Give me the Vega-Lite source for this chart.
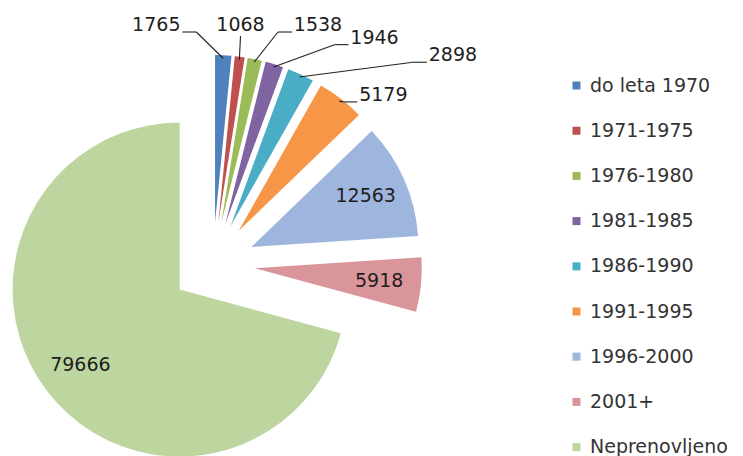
{
  "$schema": "https://vega.github.io/schema/vega-lite/v6.json",
  "width": 426,
  "height": 384,
  "autosize": {"type": "none"},
  "padding": {"left": 0, "top": 72, "right": 317, "bottom": 0},
  "background": "white",
  "config": {"view": {"stroke": null}, "text": {"font": "DejaVu Sans"}},
  "data": {
    "values": [
      {"k": "do leta 1970", "v": 1765},
      {"k": "1971-1975", "v": 1068},
      {"k": "1976-1980", "v": 1538},
      {"k": "1981-1985", "v": 1946},
      {"k": "1986-1990", "v": 2898},
      {"k": "1991-1995", "v": 5179},
      {"k": "1996-2000", "v": 12563},
      {"k": "2001+", "v": 5918},
      {"k": "Neprenovljeno", "v": 79666}
    ]
  },
  "transform": [
    {"window": [{"op": "sum", "field": "v", "as": "cum"}], "frame": [null, 0]},
    {"joinaggregate": [{"op": "sum", "field": "v", "as": "total"}]},
    {"calculate": "(datum.cum - datum.v) / datum.total", "as": "f0"},
    {"calculate": "datum.cum / datum.total", "as": "f1"},
    {"calculate": "datum.v / datum.total", "as": "f"},
    {"calculate": "PI * (datum.f0 + datum.f1)", "as": "m"}
  ],
  "layer": [
    {
      "mark": {
        "type": "arc",
        "radius": 167,
        "x": {"expr": "width/2 + 42*sin(datum.m)"},
        "y": {"expr": "height/2 - 42*cos(datum.m)"}
      },
      "encoding": {
        "theta": {"field": "f0", "type": "quantitative", "scale": {"domain": [0, 1]}},
        "theta2": {"field": "f1"},
        "color": {
          "field": "k",
          "type": "nominal",
          "sort": null,
          "scale": {
            "domain": ["do leta 1970", "1971-1975", "1976-1980", "1981-1985", "1986-1990", "1991-1995", "1996-2000", "2001+", "Neprenovljeno"],
            "range": ["#4F81BD", "#C0504D", "#9BBB59", "#8064A2", "#4BACC6", "#F79646", "#9EB5DD", "#D9959A", "#BDD59E"]
          },
          "legend": {
            "title": null,
            "orient": "right",
            "offset": 137,
            "padding": 4,
            "symbolType": "square",
            "symbolSize": 64,
            "symbolStrokeWidth": 0,
            "labelFont": "DejaVu Sans",
            "labelFontSize": 19,
            "labelColor": "#333333",
            "labelOffset": 4,
            "rowPadding": 25.2,
            "labelLimit": 200
          }
        }
      }
    },
    {
      "mark": {
        "type": "text",
        "font": "DejaVu Sans",
        "fontSize": 19,
        "color": "#1e1e1e",
        "align": "center",
        "baseline": "middle",
        "x": {"expr": "datum.f>=0.05 ? width/2+167*sin(datum.m) : (datum.f>=0.04 ? width/2+240*sin(datum.m+0.13) : width/2-57+min(1065*(datum.m-0.049), 162+580*(datum.m-0.201)))"},
        "y": {"expr": "datum.f>=0.05 ? height/2-167*cos(datum.m) : (datum.f>=0.04 ? height/2-240*cos(datum.m+0.13) : height/2-239+max(0, 130*(datum.m-0.201)))"}
      },
      "encoding": {
        "text": {"field": "v", "type": "quantitative", "format": "d"}
      }
    },
    {
      "transform": [{"filter": "datum.f < 0.05"}],
      "mark": {"type": "rule", "color": "#222222", "strokeWidth": 1.1},
      "encoding": {
        "x": {"value": {"expr": "(datum.f>=0.04 ? width/2+240*sin(datum.m+0.13) : width/2-57+min(1065*(datum.m-0.049), 162+580*(datum.m-0.201))) + 26*(abs((datum.f>=0.04 ? width/2+240*sin(datum.m+0.13) : width/2-57+min(1065*(datum.m-0.049), 162+580*(datum.m-0.201))) - (width/2+206*sin(datum.m)))<20 ? 0 : (((datum.f>=0.04 ? width/2+240*sin(datum.m+0.13) : width/2-57+min(1065*(datum.m-0.049), 162+580*(datum.m-0.201))) - (width/2+206*sin(datum.m)))<0 ? 1 : -1))"}},
        "x2": {"value": {"expr": "(datum.f>=0.04 ? width/2+240*sin(datum.m+0.13) : width/2-57+min(1065*(datum.m-0.049), 162+580*(datum.m-0.201))) + 40*(abs((datum.f>=0.04 ? width/2+240*sin(datum.m+0.13) : width/2-57+min(1065*(datum.m-0.049), 162+580*(datum.m-0.201))) - (width/2+206*sin(datum.m)))<20 ? 0 : (((datum.f>=0.04 ? width/2+240*sin(datum.m+0.13) : width/2-57+min(1065*(datum.m-0.049), 162+580*(datum.m-0.201))) - (width/2+206*sin(datum.m)))<0 ? 1 : -1))"}},
        "y": {"value": {"expr": "(datum.f>=0.04 ? height/2-240*cos(datum.m+0.13) : height/2-239+max(0, 130*(datum.m-0.201))) + (abs((datum.f>=0.04 ? width/2+240*sin(datum.m+0.13) : width/2-57+min(1065*(datum.m-0.049), 162+580*(datum.m-0.201))) - (width/2+206*sin(datum.m)))<20 ? 11 : 7)"}},
        "y2": {"value": {"expr": "(datum.f>=0.04 ? height/2-240*cos(datum.m+0.13) : height/2-239+max(0, 130*(datum.m-0.201))) + (abs((datum.f>=0.04 ? width/2+240*sin(datum.m+0.13) : width/2-57+min(1065*(datum.m-0.049), 162+580*(datum.m-0.201))) - (width/2+206*sin(datum.m)))<20 ? 11 : 7)"}}
      }
    },
    {
      "transform": [{"filter": "datum.f < 0.05"}],
      "mark": {"type": "rule", "color": "#222222", "strokeWidth": 1.1},
      "encoding": {
        "x": {"value": {"expr": "(datum.f>=0.04 ? width/2+240*sin(datum.m+0.13) : width/2-57+min(1065*(datum.m-0.049), 162+580*(datum.m-0.201))) + 40*(abs((datum.f>=0.04 ? width/2+240*sin(datum.m+0.13) : width/2-57+min(1065*(datum.m-0.049), 162+580*(datum.m-0.201))) - (width/2+206*sin(datum.m)))<20 ? 0 : (((datum.f>=0.04 ? width/2+240*sin(datum.m+0.13) : width/2-57+min(1065*(datum.m-0.049), 162+580*(datum.m-0.201))) - (width/2+206*sin(datum.m)))<0 ? 1 : -1))"}},
        "y": {"value": {"expr": "(datum.f>=0.04 ? height/2-240*cos(datum.m+0.13) : height/2-239+max(0, 130*(datum.m-0.201))) + (abs((datum.f>=0.04 ? width/2+240*sin(datum.m+0.13) : width/2-57+min(1065*(datum.m-0.049), 162+580*(datum.m-0.201))) - (width/2+206*sin(datum.m)))<20 ? 11 : 7)"}},
        "x2": {"value": {"expr": "width/2 + 206*sin(datum.m)"}},
        "y2": {"value": {"expr": "height/2 - 206*cos(datum.m)"}}
      }
    }
  ]
}
